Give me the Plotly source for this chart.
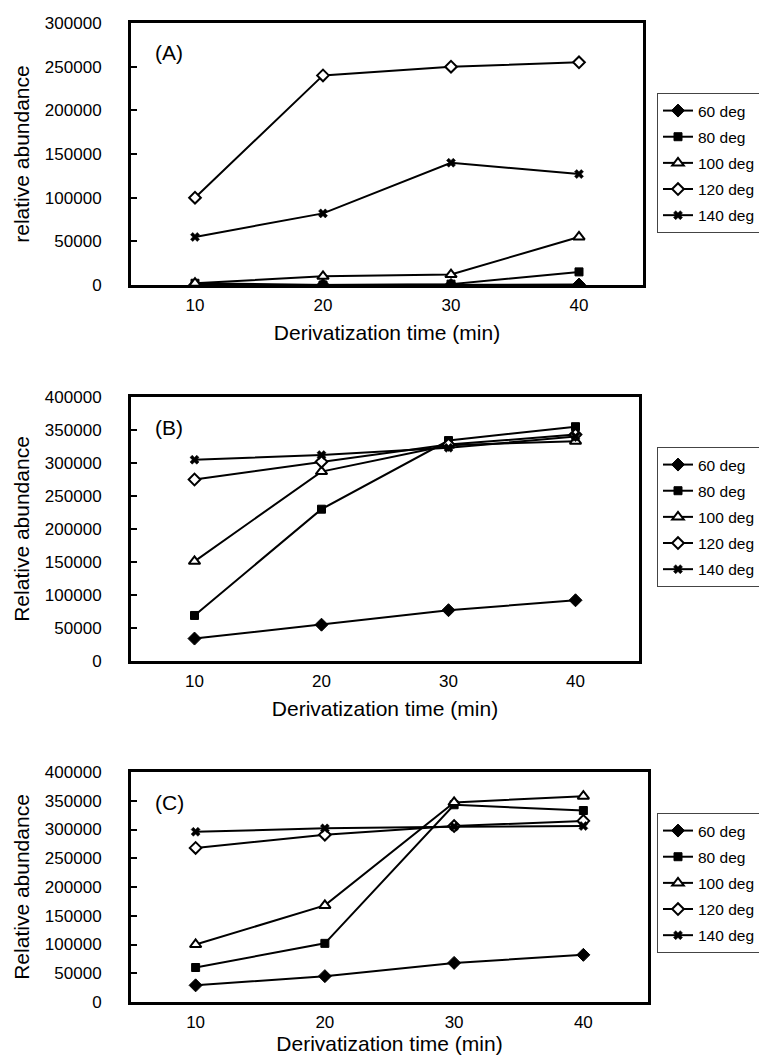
import plotly.graph_objects as go

times = [10, 20, 30, 40]
series_names = ["60 deg", "80 deg", "100 deg", "120 deg", "140 deg"]

# Panel A
a_60 = [0, 0, 0, 500]
a_80 = [2000, 0, 1000, 15000]
a_100 = [2000, 10000, 12000, 55000]
a_120 = [100000, 240000, 250000, 255000]
a_140 = [55000, 82000, 140000, 127000]

# Panel B
b_60 = [34000, 55000, 77000, 92000]
b_80 = [69000, 230000, 334000, 355000]
b_100 = [151000, 287000, 327000, 333000]
b_120 = [275000, 302000, 328000, 343000]
b_140 = [305000, 312000, 323000, 340000]

# Panel C
c_60 = [29000, 45000, 68000, 82000]
c_80 = [60000, 102000, 343000, 333000]
c_100 = [100000, 168000, 347000, 358000]
c_120 = [268000, 291000, 306000, 315000]
c_140 = [296000, 302000, 305000, 306000]

panel_labels = ["(A)", "(B)", "(C)"]
y_titles = ["relative abundance", "Relative abundance", "Relative abundance"]
x_title = "Derivatization time (min)"
y_ranges = [300000, 400000, 400000]

panels = [
    [a_60, a_80, a_100, a_120, a_140],
    [b_60, b_80, b_100, b_120, b_140],
    [c_60, c_80, c_100, c_120, c_140],
]

styles = [
    dict(symbol="diamond", size=10, color="black", line=dict(color="black", width=1)),
    dict(symbol="square", size=8, color="black", line=dict(color="black", width=1)),
    dict(symbol="triangle-up", size=10, color="white", line=dict(color="black", width=2)),
    dict(symbol="diamond", size=9, color="white", line=dict(color="black", width=2)),
    dict(symbol="x", size=8, color="black", line=dict(color="black", width=0.5)),
]

# page body has an 8px margin; figure is drawn at (8, 8) in the window
OFF = 8
W, H = 767 - OFF, 1055 - OFF
FONT = "Liberation Sans, Arial, sans-serif"

# plot areas in window pixels: (left, right, top, bottom)
boxes = [(131, 643, 23, 285), (131, 639, 397, 661), (131, 648, 772, 1002)]
legend_tops = [93, 447, 813]

fig = go.Figure()
layout = dict(
    width=W, height=H,
    margin=dict(l=0, r=0, t=0, b=0, autoexpand=False),
    paper_bgcolor="white", plot_bgcolor="white",
    font=dict(family=FONT, size=17, color="black"),
    showlegend=True,
    annotations=[],
)

for p, data in enumerate(panels):
    suffix = "" if p == 0 else str(p + 1)
    xa, ya = "x" + suffix, "y" + suffix
    leg = "legend" + suffix
    for i, vals in enumerate(data):
        fig.add_trace(go.Scatter(
            x=times, y=vals, name=series_names[i], mode="lines+markers",
            xaxis=xa, yaxis=ya, legend=leg, legendgroup=f"{p}-{i}",
            line=dict(color="black", width=2),
            marker=styles[i],
        ))
    l, r, t, b = [v - OFF for v in boxes[p]]
    layout["xaxis" + suffix] = dict(
        domain=[l / W, r / W], anchor=ya, range=[5, 45],
        tickvals=times, ticks="", showgrid=False, zeroline=False,
        showline=True, mirror=True, linecolor="black", linewidth=3,
        tickfont=dict(size=17), ticklabelstandoff=3, automargin=False,
        title=dict(text=x_title, font=dict(size=21), standoff=11),
    )
    layout["yaxis" + suffix] = dict(
        domain=[1 - b / H, 1 - t / H], anchor=xa, range=[0, y_ranges[p]],
        dtick=50000, tickformat="d", ticks="inside", ticklen=6, tickwidth=2,
        tickcolor="black", showgrid=False, zeroline=False,
        showline=True, mirror=True, linecolor="black", linewidth=3,
        tickfont=dict(size=17), ticklabelstandoff=23, automargin=False,
        title=dict(text=y_titles[p], font=dict(size=21), standoff=10),
    )
    layout[leg] = dict(
        x=(657 - OFF) / W, xanchor="left", y=1 - (legend_tops[p] - OFF) / H,
        yanchor="top",
        bordercolor="#444", borderwidth=1, bgcolor="white",
        font=dict(size=15.5), tracegroupgap=3, traceorder="grouped",
        itemsizing="trace",
    )
    layout["annotations"].append(dict(
        text=panel_labels[p], xref=xa + " domain", yref=ya + " domain",
        x=0.043, y=(b - (t + 30)) / (b - t),
        xanchor="left", yanchor="middle", showarrow=False,
        font=dict(size=21),
    ))

fig.update_layout(**layout)
fig.write_html("out.html")
